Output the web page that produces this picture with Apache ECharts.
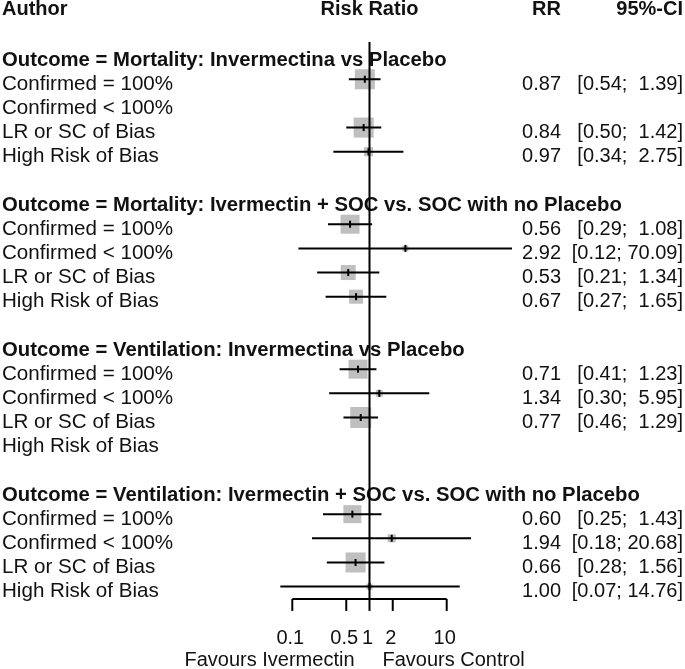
<!DOCTYPE html>
<html><head><meta charset="utf-8">
<script src="https://cdn.jsdelivr.net/npm/echarts@6/dist/echarts.min.js"></script>
<style>html,body{margin:0;padding:0;background:#fff}#c{width:685px;height:669px}</style>
</head><body><div id="c"></div>
<script>
// ---- data ----
const groupTitles = [
  'Outcome = Mortality: Invermectina vs Placebo',
  'Outcome = Mortality: Ivermectin + SOC vs. SOC with no Placebo',
  'Outcome = Ventilation: Invermectina vs Placebo',
  'Outcome = Ventilation: Ivermectin + SOC vs. SOC with no Placebo'
];
const subgroupLabels = ['Confirmed = 100%', 'Confirmed < 100%', 'LR or SC of Bias', 'High Risk of Bias'];
const rrValues = [[0.87, null, 0.84, 0.97], [0.56, 2.92, 0.53, 0.67], [0.71, 1.34, 0.77, null], [0.60, 1.94, 0.66, 1.00]];
const ciLower  = [[0.54, null, 0.50, 0.34], [0.29, 0.12, 0.21, 0.27], [0.41, 0.30, 0.46, null], [0.25, 0.18, 0.28, 0.07]];
const ciUpper  = [[1.39, null, 1.42, 2.75], [1.08, 70.09, 1.34, 1.65], [1.23, 5.95, 1.29, null], [1.43, 20.68, 1.56, 14.76]];
const weights  = [[19.8, 0, 19.8, 4.0], [17.8, 1.8, 11.1, 9.7], [17.8, 2.4, 21.8, 0], [16.0, 3.2, 19.8, 1.8]];
const tickValues = [0.1, 0.5, 1, 2, 10];
const tickLabels = ['0.1', '0.5', '1', '2', '10'];
const columnHeaders = ['Author', 'Risk Ratio', 'RR', '95%-CI'];
const favourLabels = ['Favours Ivermectin', 'Favours Control'];

// ---- layout / style ----
const FONT = '"Liberation Sans", Arial, sans-serif';
const REG = '20px ' + FONT, BOLD = 'bold 20px ' + FONT;
const LABEL_REG = '20.6px ' + FONT, LABEL_BOLD = 'bold 20.3px ' + FONT;
const TXT = '#111';
const TEXT_DY = 5;
const X_LABEL = 2, X_RR = 561, X_CI = 683;

// build rows
const rows = [];
groupTitles.forEach((t, g) => {
  rows.push({ row: g * 6, label: t, bold: true });
  subgroupLabels.forEach((s, i) => {
    rows.push({ row: g * 6 + 1 + i, label: s, bold: false,
      rr: rrValues[g][i], lo: ciLower[g][i], up: ciUpper[g][i], w: weights[g][i] });
  });
});
const studyRows = rows.filter(r => r.rr != null);

function fmtCI(lo, up) {
  const u = up.toFixed(2);
  return '[' + lo.toFixed(2) + ';' + (u.length < 5 ? '  ' : ' ') + u + ']';
}
function txt(x, y, text, font, align) {
  return { type: 'text', x: x, y: y, style: { text: text, font: font, fill: TXT,
    textAlign: align || 'left', textVerticalAlign: 'middle', align: align || 'left', verticalAlign: 'middle' } };
}

const chart = echarts.init(document.getElementById('c'), null, { renderer: 'canvas' });
chart.setOption({
  animation: false,
  grid: { left: 215.1, width: 386, top: 6.78, height: 604 },
  xAxis: { type: 'log', logBase: 10, min: 0.01, max: 1000, show: false },
  yAxis: { type: 'value', min: -2, max: 23, inverse: true, show: false },
  series: [
    { // boxes + CI
      type: 'custom', clip: false, z: 2,
      data: studyRows.map(r => [r.rr, r.lo, r.up, r.row, r.w]),
      renderItem: function (params, api) {
        const row = api.value(3);
        const pm = api.coord([api.value(0), row]);
        const pl = api.coord([api.value(1), row]);
        const pu = api.coord([api.value(2), row]);
        const size = 4.5 * Math.sqrt(api.value(4));
        return { type: 'group', children: [
          { type: 'rect', shape: { x: pm[0] - size / 2, y: pm[1] - size / 2, width: size, height: size },
            style: { fill: '#bfbfbf' } },
          { type: 'line', shape: { x1: pl[0], y1: pl[1], x2: pu[0], y2: pu[1] },
            style: { stroke: '#000', lineWidth: 2 } },
          { type: 'line', shape: { x1: pm[0], y1: pm[1] - 3.5, x2: pm[0], y2: pm[1] + 3.5 },
            style: { stroke: '#000', lineWidth: 2 } }
        ] };
      }
    },
    { // text columns
      type: 'custom', clip: false, z: 3,
      data: rows.map(r => [1, r.row]),
      renderItem: function (params, api) {
        const r = rows[params.dataIndex];
        const y = api.coord([1, r.row])[1] + TEXT_DY;
        const ch = [txt(X_LABEL, y, r.label, r.bold ? LABEL_BOLD : LABEL_REG, 'left')];
        if (r.rr != null) {
          ch.push(txt(X_RR, y, r.rr.toFixed(2), REG, 'right'));
          ch.push(txt(X_CI, y, fmtCI(r.lo, r.up), REG, 'right'));
        }
        return { type: 'group', children: ch };
      }
    },
    { // reference line, axis, headers
      type: 'custom', clip: false, z: 4,
      data: [[1, 0]],
      renderItem: function (params, api) {
        const top = api.coord([1, -0.54]);
        const axisY = api.coord([1, 22.51])[1];
        const ch = [];
        ch.push({ type: 'line', shape: { x1: top[0], y1: top[1], x2: top[0], y2: axisY },
          style: { stroke: '#000', lineWidth: 2 } });
        const xa = api.coord([tickValues[0], 0])[0], xb = api.coord([tickValues[tickValues.length - 1], 0])[0];
        ch.push({ type: 'line', shape: { x1: xa, y1: axisY, x2: xb, y2: axisY }, style: { stroke: '#000', lineWidth: 2 } });
        const labY = api.coord([1, 23.92])[1] + TEXT_DY;
        tickValues.forEach((v, i) => {
          const x = api.coord([v, 0])[0];
          ch.push({ type: 'line', shape: { x1: x, y1: axisY, x2: x, y2: axisY + 12 }, style: { stroke: '#000', lineWidth: 2 } });
          ch.push(txt(x - 2, labY, tickLabels[i], REG, 'center'));
        });
        const favY = api.coord([1, 24.87])[1] + TEXT_DY;
        ch.push(txt(top[0] - 15, favY, favourLabels[0], REG, 'right'));
        ch.push(txt(top[0] + 13, favY, favourLabels[1], REG, 'left'));
        const hY = api.coord([1, -2.1])[1] + TEXT_DY;
        ch.push(txt(X_LABEL, hY, columnHeaders[0], BOLD, 'left'));
        ch.push(txt(top[0], hY, columnHeaders[1], BOLD, 'center'));
        ch.push(txt(X_RR, hY, columnHeaders[2], BOLD, 'right'));
        ch.push(txt(X_CI, hY, columnHeaders[3], BOLD, 'right'));
        return { type: 'group', children: ch };
      }
    }
  ]
});
</script></body></html>
